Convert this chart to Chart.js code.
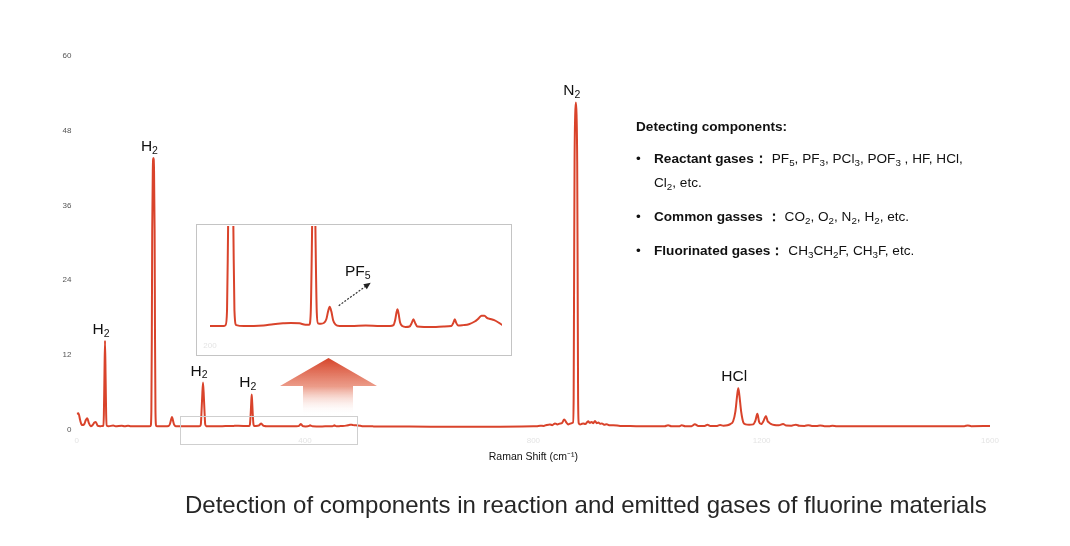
<!DOCTYPE html>
<html>
<head>
<meta charset="utf-8">
<title>Raman spectrum of fluorine material gases</title>
<script src="https://cdn.jsdelivr.net/npm/chart.js@4.4.1/dist/chart.umd.min.js"></script>
<style>
  html, body { margin: 0; padding: 0; background: #fff; }
  body { width: 1070px; height: 546px; position: relative; overflow: hidden;
         font-family: "Liberation Sans", Arial, sans-serif; color: #111; }
  #main { position: absolute; left: 0; top: 0; }
  #inset { position: absolute; left: 196px; top: 224px; width: 316px; height: 132px;
           border: 1px solid #c4c4c4; box-sizing: border-box; background: #fff; }
  #insetCanvas { position: absolute; left: 1px; top: 1px; }
  #arrow { position: absolute; left: 0; top: 0; pointer-events: none; }
  .info { position: absolute; font-size: 13.6px; line-height: 13.6px; white-space: nowrap; color: #111; }
  .info b { font-weight: bold; }
  .info .v { margin-left: 4px; }
  .info sub { font-size: 0.72em; vertical-align: -0.3em; line-height: 0; }
  .caption { position: absolute; left: 185px; top: 493px; font-size: 24px; line-height: 24px;
             color: #262626; white-space: nowrap; }
</style>
</head>
<body>
<canvas id="main" width="1070" height="546"></canvas>

<svg id="arrow" width="1070" height="546">
  <defs>
    <linearGradient id="fade" x1="0" y1="358" x2="0" y2="415" gradientUnits="userSpaceOnUse">
      <stop offset="0" stop-color="#d6442a" stop-opacity="1"/>
      <stop offset="0.5" stop-color="#e88a74" stop-opacity="0.85"/>
      <stop offset="1" stop-color="#ffffff" stop-opacity="0"/>
    </linearGradient>
  </defs>
  <polygon points="328.5,358 377,386 353,386 353,415 303,415 303,386 280,386" fill="url(#fade)"/>
</svg>

<div id="inset"><canvas id="insetCanvas" width="306" height="126"></canvas></div>

<div class="info" style="left:636px;top:120px;font-weight:bold;">Detecting components:</div>
<div class="info" style="left:636px;top:152px;">•</div>
<div class="info" style="left:654px;top:152px;"><b>Reactant gases：</b><span class="v">PF<sub>5</sub>, PF<sub>3</sub>, PCl<sub>3</sub>, POF<sub>3</sub> , HF, HCl,</span></div>
<div class="info" style="left:654px;top:176px;">Cl<sub>2</sub>, etc.</div>
<div class="info" style="left:636px;top:210px;">•</div>
<div class="info" style="left:654px;top:210px;"><b>Common gasses ：</b><span class="v">CO<sub>2</sub>, O<sub>2</sub>, N<sub>2</sub>, H<sub>2</sub>, etc.</span></div>
<div class="info" style="left:636px;top:244px;">•</div>
<div class="info" style="left:654px;top:244px;"><b>Fluorinated gases：</b><span class="v">CH<sub>3</sub>CH<sub>2</sub>F, CH<sub>3</sub>F, etc.</span></div>

<div class="caption">Detection of components in reaction and emitted gases of fluorine materials</div>

<script>
// Raman spectrum (x: Raman shift in cm-1, y: intensity)
const ramanShift = [
  0, 3, 6, 9, 13, 16, 18.5, 21, 24.5, 28, 31, 33.5, 36.5, 41, 44.5,
  46.5, 47.6, 48.5, 49.6, 50.7, 51.6, 52.7, 56, 64, 68, 79, 84, 90, 95, 105, 115, 124,
  129.5, 130.8, 131.6, 132.3, 133.3, 134.4, 135.5, 136.5, 137.2, 138, 139.3,
  145, 155, 161, 163.5, 165.5, 167, 168.5, 170.5, 173.5, 180, 190, 200, 208, 214,
  216, 217.5, 218.5, 219.8, 221.3, 222.8, 224.1, 225.1, 227,
  235, 245, 255, 265, 275, 283, 292, 298,
  302, 303.5, 304.8, 305.7, 306.6, 307.5, 308.4, 309.7, 311,
  314, 317, 319.5, 321.3, 323, 324.7, 326.5, 329, 333, 345, 360, 375, 385,
  388.5, 390.3, 391.6, 392.6, 393.7, 395.3, 397.5, 401, 405, 407.3, 409, 410.7, 413,
  420, 430, 440, 448, 450, 451.5, 453, 455, 460, 466, 472, 476, 479, 482, 484.5, 487,
  492, 497, 500.5, 506, 520, 560, 620, 680, 740, 780,
  800, 806, 812, 818, 823, 829, 833, 838, 842, 847, 850, 854, 858, 861, 865.5, 869.5,
  870.6, 871.4, 872.2, 873.3, 874.5, 875.7, 876.8, 877.6, 878.4, 879.5,
  882, 885, 887.5, 891, 896, 899, 902, 905, 908, 911, 914, 917, 920, 924, 928.5, 934,
  940, 952, 963, 980, 1000, 1030, 1036, 1042, 1055, 1060, 1066, 1077, 1083, 1089,
  1100, 1105, 1110, 1122, 1127, 1133, 1140, 1145, 1150, 1154, 1157, 1159, 1161, 1164,
  1168, 1172, 1178, 1185, 1189, 1192.5, 1195.5, 1199, 1203, 1207.5, 1210.5, 1213, 1216,
  1222, 1230, 1237.5, 1243, 1252, 1260, 1266, 1275, 1281.5, 1288, 1296, 1302.5, 1310,
  1318, 1324, 1332, 1400, 1500, 1555, 1561, 1567, 1600
];
const intensity = [
  2.6, 2.7, 1.6, 0.8, 0.9, 1.6, 1.9, 1.2, 0.6, 0.8, 1.2, 1.3, 0.7, 0.6, 0.65,
  0.7, 2.5, 8, 14.3, 8, 2.5, 0.7, 0.6, 0.72, 0.6, 0.7, 0.6, 0.68, 0.6, 0.6, 0.62, 0.6,
  0.65, 3, 15, 32, 41.5, 43.6, 41.5, 32, 15, 3, 0.65,
  0.6, 0.6, 0.65, 1.0, 1.7, 2.1, 1.6, 0.9, 0.62, 0.6, 0.6, 0.6, 0.6, 0.6,
  0.62, 0.95, 2.6, 5.2, 7.6, 5.2, 2.6, 0.95, 0.62,
  0.6, 0.6, 0.61, 0.64, 0.66, 0.67, 0.66, 0.63,
  0.63, 0.9, 2.6, 4.3, 5.7, 4.3, 2.6, 0.9, 0.66,
  0.65, 0.67, 0.75, 0.92, 1.03, 0.92, 0.73, 0.63, 0.6, 0.6, 0.61, 0.6, 0.6,
  0.62, 0.74, 0.9, 0.97, 0.88, 0.68, 0.6, 0.58, 0.59, 0.67, 0.75, 0.67, 0.59,
  0.58, 0.58, 0.59, 0.6, 0.67, 0.75, 0.67, 0.61, 0.62, 0.64, 0.7, 0.77, 0.83, 0.83, 0.78, 0.76,
  0.73, 0.67, 0.62, 0.6, 0.58, 0.56, 0.53, 0.52, 0.53, 0.56,
  0.6, 0.62, 0.7, 0.65, 0.8, 0.9, 0.78, 1.05, 0.9, 1.05, 1.1, 1.7, 1.2, 0.9, 1.05, 1.2,
  5, 25, 43, 50.5, 52.5, 50.5, 43, 25, 5, 1.1,
  0.9, 1.0, 1.05, 0.95, 1.4, 1.15, 1.3, 1.1, 1.45, 1.1, 1.2, 1.0, 1.05, 0.85, 0.91, 0.75,
  0.78, 0.66, 0.64, 0.6, 0.6, 0.6, 0.75, 0.6, 0.6, 0.75, 0.6, 0.62, 0.91, 0.64,
  0.65, 0.85, 0.66, 0.66, 0.8, 0.68, 0.75, 0.95, 1.4, 3.0, 5.5, 6.7, 5.5, 3.0,
  1.2, 0.9, 0.85, 0.9, 1.5, 2.6, 1.3, 0.95, 1.4, 2.25, 1.4, 1.2, 1.0,
  0.8, 0.75, 0.95, 0.72, 0.7, 0.85, 0.68, 0.66, 0.78, 0.65, 0.64, 0.72, 0.62,
  0.62, 0.68, 0.6, 0.6, 0.62, 0.62, 0.72, 0.62, 0.65
];

// axis ticks
const xTicks = [0, 400, 800, 1200, 1600];
const yTicks = [0, 12, 24, 36, 48, 60];

// peak labels (name + subscript, anchored to the peak position)
const labelPeaks = [49.6, 134.4, 221.3, 306.6, 874.5, 1159];
const labelMain  = ['H', 'H', 'H', 'H', 'N', 'HCl'];
const labelSub   = ['2', '2', '2', '2', '2', ''];

// inset: PF5 peak
const insetPeak = 323;
const insetLabel = ['PF', '5'];

const LINE = '#d9432b';
const FONT = '"Liberation Sans", Arial, sans-serif';
Chart.defaults.font.family = FONT;

const points = ramanShift.map((x, i) => ({ x: x, y: intensity[i] }));

function drawSubText(ctx, main, sub, cx, by, size, subSize, drop) {
  ctx.font = size + 'px ' + FONT;
  const w1 = ctx.measureText(main).width;
  ctx.font = subSize + 'px ' + FONT;
  const w2 = sub ? ctx.measureText(sub).width : 0;
  const left = cx - (w1 + w2) / 2;
  ctx.textAlign = 'left';
  ctx.textBaseline = 'alphabetic';
  ctx.font = size + 'px ' + FONT;
  ctx.fillText(main, left, by);
  if (sub) {
    ctx.font = subSize + 'px ' + FONT;
    ctx.fillText(sub, left + w1, by + drop);
  }
}

const peakLabels = {
  id: 'peakLabels',
  afterDatasetsDraw(chart) {
    const { ctx, scales: { x, y } } = chart;
    ctx.save();
    ctx.fillStyle = '#111';
    labelPeaks.forEach((p, i) => {
      const v = intensity[ramanShift.indexOf(p)];
      drawSubText(ctx, labelMain[i], labelSub[i],
        x.getPixelForValue(p) - 4, y.getPixelForValue(v) - 7, 15.5, 10.5, 2.8);
    });
    // frame around the zoomed part
    const x0 = x.getPixelForValue(181), x1 = x.getPixelForValue(491);
    const y0 = y.getPixelForValue(2.24), y1 = y.getPixelForValue(-2.24);
    ctx.strokeStyle = '#cfcfcf';
    ctx.lineWidth = 1;
    ctx.strokeRect(Math.round(x0) + 0.5, Math.round(y0) + 0.5, Math.round(x1 - x0), Math.round(y1 - y0));
    ctx.restore();
  }
};

new Chart(document.getElementById('main'), {
  type: 'line',
  data: {
    datasets: [{
      data: points,
      borderColor: LINE,
      borderWidth: 2,
      pointRadius: 0,
      fill: false,
      cubicInterpolationMode: 'monotone'
    }]
  },
  options: {
    responsive: false,
    animation: false,
    devicePixelRatio: 1,
    layout: { padding: { left: 56.7, right: 80, top: 55.7, bottom: 83 } },
    plugins: { legend: { display: false }, tooltip: { enabled: false } },
    scales: {
      x: {
        type: 'linear',
        min: 0,
        max: 1600,
        afterBuildTicks: (s) => { s.ticks = xTicks.map(v => ({ value: v })); },
        afterFit: (s) => { s.height = 33; },
        grid: { display: false, drawTicks: false },
        border: { display: false },
        ticks: { color: '#e4e4e4', font: { size: 8 }, padding: 6, maxRotation: 0,
                 callback: (v) => String(v) },
        title: { display: true, text: 'Raman Shift (cm⁻¹)', color: '#111',
                 font: { size: 10.5 }, padding: { top: 0, bottom: 0 } }
      },
      y: {
        min: 0,
        max: 60,
        afterBuildTicks: (s) => { s.ticks = yTicks.map(v => ({ value: v })); },
        afterFit: (s) => { s.width = 20; },
        grid: { display: false, drawTicks: false },
        border: { display: false },
        ticks: { color: '#555', font: { size: 8 }, padding: 5.2 }
      }
    }
  },
  plugins: [peakLabels]
});

// inset: zoom on the 200-500 cm-1 region
const insetDecor = {
  id: 'insetDecor',
  afterDatasetsDraw(chart) {
    const { ctx, scales: { x, y } } = chart;
    const px = x.getPixelForValue(insetPeak);
    const py = y.getPixelForValue(intensity[ramanShift.indexOf(insetPeak)]);
    ctx.save();
    ctx.fillStyle = '#111';
    drawSubText(ctx, insetLabel[0], insetLabel[1], px + 28, py - 31, 15.5, 10.5, 3.3);
    // dashed pointer
    const sx = px + 9, sy = py - 1, tx = px + 41, ty = py - 24;
    const ang = Math.atan2(ty - sy, tx - sx);
    ctx.strokeStyle = '#333';
    ctx.lineWidth = 1.2;
    ctx.setLineDash([2, 1.5]);
    ctx.beginPath();
    ctx.moveTo(sx, sy);
    ctx.lineTo(tx - 5 * Math.cos(ang), ty - 5 * Math.sin(ang));
    ctx.stroke();
    ctx.setLineDash([]);
    ctx.fillStyle = '#222';
    ctx.beginPath();
    ctx.moveTo(tx, ty);
    ctx.lineTo(tx - 7 * Math.cos(ang) + 3 * Math.sin(ang), ty - 7 * Math.sin(ang) - 3 * Math.cos(ang));
    ctx.lineTo(tx - 7 * Math.cos(ang) - 3 * Math.sin(ang), ty - 7 * Math.sin(ang) + 3 * Math.cos(ang));
    ctx.closePath();
    ctx.fill();
    ctx.restore();
  }
};

new Chart(document.getElementById('insetCanvas'), {
  type: 'line',
  data: {
    datasets: [{
      data: points,
      borderColor: LINE,
      borderWidth: 2,
      pointRadius: 0,
      fill: false,
      cubicInterpolationMode: 'monotone'
    }]
  },
  options: {
    responsive: false,
    animation: false,
    devicePixelRatio: 1,
    layout: { padding: { left: 12, right: 2, top: 0, bottom: 0 } },
    plugins: { legend: { display: false }, tooltip: { enabled: false } },
    scales: {
      x: {
        type: 'linear',
        min: 200,
        max: 500,
        afterBuildTicks: (s) => { s.ticks = [{ value: 200 }]; },
        afterFit: (s) => { s.height = 12; },
        grid: { display: false, drawTicks: false },
        border: { display: false },
        ticks: { color: '#e4e4e4', font: { size: 8 }, padding: 1.2, maxRotation: 0 }
      },
      y: {
        display: false,
        min: 0.29,
        max: 2.82
      }
    }
  },
  plugins: [insetDecor]
});
</script>
</body>
</html>
